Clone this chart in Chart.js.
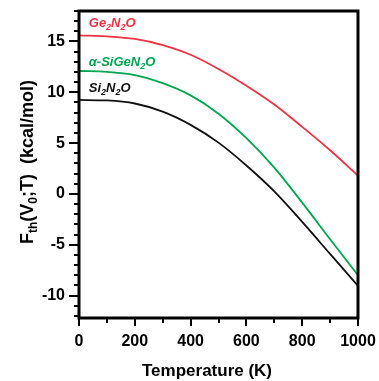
<!DOCTYPE html>
<html>
<head>
<meta charset="utf-8">
<script src="https://cdn.jsdelivr.net/npm/chart.js@4.4.1/dist/chart.umd.min.js"></script>
<style>
  body { margin: 0; background: #fff; }
  canvas { display: block; }
</style>
</head>
<body>
<canvas id="myChart" width="379" height="381"></canvas>
<script>
// temperature in K
var temps = [0, 100, 200, 300, 400, 500, 600, 700, 800, 900, 1000];
// F_th(V0;T) in kcal/mol
var ge2n2o  = [15.6, 15.5, 15.25, 14.65, 13.7, 12.3, 10.65, 8.8, 6.6, 4.3, 1.8];
var sigen2o = [12.1, 12.02, 11.7, 10.9, 9.7, 7.9, 5.5, 2.6, -0.85, -4.45, -8.0];
var si2n2o  = [9.25, 9.2, 8.9, 8.1, 6.8, 5.05, 2.8, 0.25, -2.75, -5.9, -9.05];

var seriesNames = ['Ge_2N_2O', 'α-SiGeN_2O', 'Si_2N_2O'];
var seriesColors = ['#ee3344', '#00a651', '#111111'];
// where the name labels sit, in data units (K, kcal/mol)
var nameSpots = [[35, 16.4], [35, 12.6], [35, 10.05]];

var xTicks = [0, 200, 400, 600, 800, 1000];
var yTicks = [-10, -5, 0, 5, 10, 15];
var xTitle = 'Temperature (K)';
var yTitle = 'F_{th}(V_0;T)  (kcal/mol)';

var FONT = '"Liberation Sans", Arial, sans-serif';

// split "A_2B_{xy}" into [text, isSub] parts
function parseSub(str) {
  var parts = [], i = 0, buf = '';
  while (i < str.length) {
    if (str[i] === '_') {
      if (buf) { parts.push([buf, false]); buf = ''; }
      if (str[i + 1] === '{') {
        var j = str.indexOf('}', i);
        parts.push([str.slice(i + 2, j), true]);
        i = j + 1;
      } else {
        parts.push([str[i + 1], true]);
        i += 2;
      }
    } else {
      buf += str[i];
      i++;
    }
  }
  if (buf) parts.push([buf, false]);
  return parts;
}

function richWidth(ctx, parts, big, small, style) {
  var w = 0;
  parts.forEach(function(p) {
    ctx.font = style + ' ' + (p[1] ? small : big) + 'px ' + FONT;
    w += ctx.measureText(p[0]).width;
  });
  return w;
}

function drawRich(ctx, parts, x, y, big, small, style, drop) {
  parts.forEach(function(p) {
    ctx.font = style + ' ' + (p[1] ? small : big) + 'px ' + FONT;
    ctx.fillText(p[0], x, p[1] ? y + drop : y);
    x += ctx.measureText(p[0]).width;
  });
}

var framePlugin = {
  id: 'frame',
  afterDraw: function(chart) {
    var ctx = chart.ctx, a = chart.chartArea;
    var x = chart.scales.x, y = chart.scales.y;
    ctx.save();
    ctx.strokeStyle = '#000';
    ctx.lineWidth = 3;
    ctx.strokeRect(a.left, a.top, a.right - a.left, a.bottom - a.top);

    // tick marks, major and minor
    ctx.lineWidth = 2;
    ctx.beginPath();
    for (var v = -12; v <= 18; v++) {
      var py = Math.round(y.getPixelForValue(v));
      var len = (v % 5 === 0) ? 10 : 5;
      ctx.moveTo(a.left - len, py);
      ctx.lineTo(a.left, py);
    }
    for (var t = 0; t <= 1000; t += 100) {
      var px = Math.round(x.getPixelForValue(t));
      var l2 = (t % 200 === 0) ? 8 : 5;
      ctx.moveTo(px, a.bottom);
      ctx.lineTo(px, a.bottom + l2);
    }
    ctx.stroke();

    // series names
    ctx.textAlign = 'left';
    ctx.textBaseline = 'alphabetic';
    seriesNames.forEach(function(name, i) {
      ctx.fillStyle = seriesColors[i];
      drawRich(ctx, parseSub(name),
        x.getPixelForValue(nameSpots[i][0]), y.getPixelForValue(nameSpots[i][1]),
        13, 9, 'italic bold', 3);
    });

    // axis titles
    ctx.fillStyle = '#000';
    ctx.font = 'bold 17px ' + FONT;
    ctx.textAlign = 'center';
    ctx.textBaseline = 'middle';
    ctx.fillText(xTitle, 207, 371);

    var parts = parseSub(yTitle);
    ctx.textAlign = 'left';
    ctx.textBaseline = 'alphabetic';
    var w = richWidth(ctx, parts, 18, 12, 'bold');
    ctx.translate(26, 162);
    ctx.rotate(-Math.PI / 2);
    drawRich(ctx, parts, -w / 2, 6.5, 18, 12, 'bold', 4);
    ctx.restore();
  }
};

var tickFont = { family: FONT, size: 16, weight: 'bold' };

function noPad(s) {
  s.paddingTop = 0; s.paddingBottom = 0; s.paddingLeft = 0; s.paddingRight = 0;
}

var ctx = document.getElementById('myChart');
var myChart = new Chart(ctx, {
  type: 'line',
  data: {
    datasets: [ge2n2o, sigen2o, si2n2o].map(function(vals, i) {
      return {
        label: seriesNames[i],
        data: temps.map(function(t, k) { return { x: t, y: vals[k] }; }),
        borderColor: seriesColors[i],
        borderWidth: 1.8,
        pointRadius: 0,
        fill: false,
        cubicInterpolationMode: 'monotone'
      };
    })
  },
  options: {
    responsive: false,
    animation: false,
    layout: { padding: { top: 11, right: 21, left: 0, bottom: 0 } },
    plugins: {
      legend: { display: false },
      tooltip: { enabled: false }
    },
    scales: {
      x: {
        type: 'linear',
        min: 0,
        max: 1000,
        grid: { display: false, drawTicks: false },
        border: { display: false },
        afterBuildTicks: function(s) { s.ticks = xTicks.map(function(v) { return { value: v }; }); },
        ticks: {
          color: '#000', font: tickFont, padding: 14, maxRotation: 0, autoSkip: false,
          callback: function(v) { return String(v); }
        },
        afterFit: function(s) { s.height = 63; noPad(s); }
      },
      y: {
        type: 'linear',
        min: -12.2,
        max: 18,
        grid: { display: false, drawTicks: false },
        border: { display: false },
        afterBuildTicks: function(s) { s.ticks = yTicks.map(function(v) { return { value: v }; }); },
        ticks: { color: '#000', font: tickFont, padding: 14, callback: function(v) { return String(v); } },
        afterFit: function(s) { s.width = 79; noPad(s); }
      }
    }
  },
  plugins: [framePlugin]
});
</script>
</body>
</html>
